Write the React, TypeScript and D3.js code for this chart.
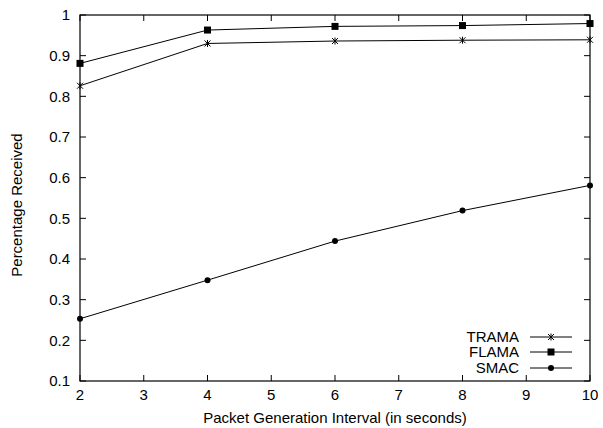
import React from "react";
import * as d3 from "d3";

const xValues = [2, 4, 6, 8, 10];
const trama = [0.826, 0.93, 0.936, 0.938, 0.939];
const flama = [0.881, 0.963, 0.972, 0.974, 0.979];
const smac = [0.253, 0.348, 0.444, 0.519, 0.581];
const xTicks = [2, 3, 4, 5, 6, 7, 8, 9, 10];
const yTicks = [0.1, 0.2, 0.3, 0.4, 0.5, 0.6, 0.7, 0.8, 0.9, 1];
const seriesNames = ["TRAMA", "FLAMA", "SMAC"];

const W = 603, H = 428;
const L = 80, R = 590, T = 15, B = 381;

function Marker({ kind, x, y }: { kind: string; x: number; y: number }) {
  if (kind === "TRAMA") {
    return (
      <g stroke="#000" strokeWidth={1}>
        <line x1={x - 3} y1={y - 3} x2={x + 3} y2={y + 3} />
        <line x1={x - 3} y1={y + 3} x2={x + 3} y2={y - 3} />
        <line x1={x} y1={y - 3.5} x2={x} y2={y + 3.5} />
      </g>
    );
  }
  if (kind === "FLAMA") {
    return <rect x={x - 3.5} y={y - 3.5} width={7} height={7} fill="#000" />;
  }
  return <circle cx={x} cy={y} r={3} fill="#000" />;
}

export default function App() {
  const x = d3.scaleLinear().domain([2, 10]).range([L, R]);
  const y = d3.scaleLinear().domain([0.1, 1]).range([B, T]);
  const line = d3
    .line<number>()
    .x((_, i) => x(xValues[i]))
    .y((d) => y(d));
  const data = [trama, flama, smac];
  const font = "'Liberation Sans', Arial, Helvetica, sans-serif";
  const tl = 6;
  const fs = 15;
  const legendY = [337, 352, 368];
  return (
    <svg
      width={W}
      height={H}
      style={{ position: "absolute", left: 0, top: 0, background: "#fff" }}
      fontFamily={font}
    >
      <rect x={0} y={0} width={W} height={H} fill="#fff" />
      {yTicks.map((t) => (
        <g key={"y" + t}>
          <line x1={L} x2={L + tl} y1={y(t)} y2={y(t)} stroke="#000" />
          <line x1={R} x2={R - tl} y1={y(t)} y2={y(t)} stroke="#000" />
          <text x={70} y={y(t)} dy="0.35em" textAnchor="end" fontSize={fs} fill="#000">
            {d3.format("~g")(t)}
          </text>
        </g>
      ))}
      {xTicks.map((t) => (
        <g key={"x" + t}>
          <line x1={x(t)} x2={x(t)} y1={B} y2={B - tl} stroke="#000" />
          <line x1={x(t)} x2={x(t)} y1={T} y2={T + tl} stroke="#000" />
          <text x={x(t)} y={400} textAnchor="middle" fontSize={fs} fill="#000">
            {t}
          </text>
        </g>
      ))}
      <rect x={L} y={T} width={R - L} height={B - T} fill="none" stroke="#000" strokeWidth={1.2} />
      {data.map((s, si) => (
        <g key={si}>
          <path d={line(s) || ""} fill="none" stroke="#000" strokeWidth={1} />
          {s.map((v, i) => (
            <Marker key={i} kind={seriesNames[si]} x={x(xValues[i])} y={y(v)} />
          ))}
        </g>
      ))}
      {seriesNames.map((n, i) => (
        <g key={n}>
          <text x={519} y={legendY[i]} dy="0.35em" textAnchor="end" fontSize={fs} fill="#000">
            {n}
          </text>
          <line x1={530} x2={572} y1={legendY[i]} y2={legendY[i]} stroke="#000" />
          <Marker kind={n} x={551} y={legendY[i]} />
        </g>
      ))}
      <text x={(L + R) / 2} y={423} textAnchor="middle" fontSize={fs} fill="#000">
        Packet Generation Interval (in seconds)
      </text>
      <text
        transform={`translate(22, 205) rotate(-90)`}
        textAnchor="middle"
        fontSize={fs}
        fill="#000"
      >
        Percentage Received
      </text>
    </svg>
  );
}
